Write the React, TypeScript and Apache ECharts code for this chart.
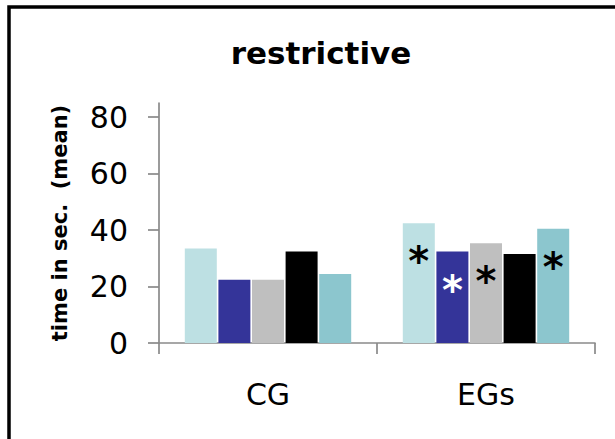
import React, { useEffect, useRef } from "react";
import * as echarts from "echarts";

const categories = ["CG", "EGs"];
const seriesNames = ["s1", "s2", "s3", "s4", "s5"];
const seriesColors = ["#bde0e3", "#343499", "#bfbfbf", "#000000", "#8cc6ce"];
const seriesValues = [
  [33.5, 42.4],
  [22.4, 32.4],
  [22.4, 35.3],
  [32.4, 31.5],
  [24.4, 40.5],
];
// significance marks per series per category ("" = none)
const marks = [
  ["", "*"],
  ["", "*"],
  ["", "*"],
  ["", ""],
  ["", "*"],
];
const markColors = ["#000000", "#ffffff", "#000000", "#000000", "#000000"];
const yTicks = [0, 20, 40, 60, 80];

export default function App() {
  const ref = useRef<HTMLDivElement>(null);
  useEffect(() => {
    if (!ref.current) return;
    const chart = echarts.init(ref.current, null, { renderer: "svg" });
    const axisColor = "#8a8a8a";
    chart.setOption({
      animation: false,
      backgroundColor: "#ffffff",
      title: {
        text: "restrictive",
        left: 316,
        top: 32,
        textAlign: "center",
        textStyle: {
          fontFamily: "DejaVu Sans",
          fontWeight: "bold",
          fontSize: 31,
          color: "#000",
        },
      },
      graphic: [
        {
          type: "rect",
          shape: { x: 9, y: 7, width: 700, height: 500 },
          style: { fill: "none", stroke: "#000", lineWidth: 3.5 },
          silent: true,
        },
      ],
      grid: { left: 159, right: 20, top: 103, bottom: 96 },
      xAxis: {
        type: "category",
        data: categories,
        axisLine: { lineStyle: { color: axisColor, width: 1.7 } },
        axisTick: { show: true, length: 11, lineStyle: { color: axisColor, width: 1.7 } },
        axisLabel: {
          margin: 36,
          fontFamily: "DejaVu Sans",
          fontSize: 30,
          color: "#000",
        },
      },
      yAxis: {
        type: "value",
        min: 0,
        max: 85,
        interval: 20,
        name: "time in sec.  (mean)",
        nameLocation: "middle",
        nameGap: 89,
        nameTextStyle: {
          fontFamily: "DejaVu Sans",
          fontWeight: "bold",
          fontSize: 21,
          color: "#000",
        },
        splitLine: { show: false },
        axisLine: { show: true, lineStyle: { color: axisColor, width: 1.7 } },
        axisTick: {
          show: true,
          length: 11,
          customValues: yTicks,
          lineStyle: { color: axisColor, width: 1.7 },
        },
        axisLabel: {
          margin: 31,
          customValues: yTicks,
          fontFamily: "DejaVu Sans",
          fontSize: 30,
          color: "#000",
        },
      },
      series: seriesNames.map((name, si) => ({
        name,
        type: "bar",
        barWidth: 32,
        barGap: "5%",
        itemStyle: { color: seriesColors[si] },
        data: seriesValues[si].map((v, ci) => ({
          value: v,
          label: marks[si][ci]
            ? {
                show: true,
                formatter: marks[si][ci],
                position: "insideTop",
                distance: 18,
                fontFamily: "DejaVu Sans",
                fontWeight: "bold",
                fontSize: 40,
                lineHeight: 40,
                color: markColors[si],
              }
            : { show: false },
        })),
      })),
    });
    return () => chart.dispose();
  }, []);
  return (
    <div
      ref={ref}
      style={{ position: "fixed", left: 0, top: 0, width: 615, height: 439 }}
    />
  );
}
